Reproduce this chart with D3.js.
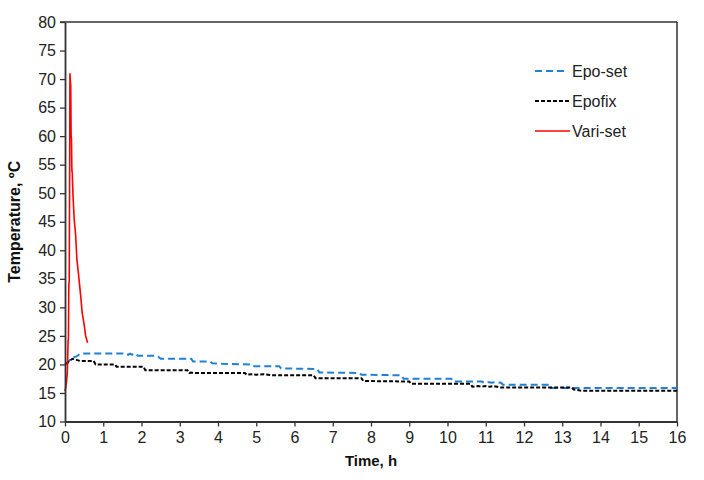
<!DOCTYPE html>
<html>
<head>
<meta charset="utf-8">
<script src="https://cdn.jsdelivr.net/npm/d3@7"></script>
<style>
  html, body { margin: 0; padding: 0; background: #fff; }
  svg { display: block; font-family: "Liberation Sans", Arial, sans-serif; }
</style>
</head>
<body>
<svg id="chart" width="704" height="480"></svg>
<script>
// ---- data (time in hours, temperature in °C) ----
const xTicks = [0,1,2,3,4,5,6,7,8,9,10,11,12,13,14,15,16];
const yTicks = [10,15,20,25,30,35,40,45,50,55,60,65,70,75,80];
const seriesNames = ["Epo-set", "Epofix", "Vari-set"];

const epoSetTime = [0,0.1,0.2,0.3,0.4,1.6,1.65,1.7,1.75,1.85,1.9,2.4,2.45,2.5,3.3,3.35,3.8,3.85,4.1,4.85,4.9,5.6,5.65,6.6,6.65,7.7,7.75,8.8,8.85,10.1,10.15,10.9,10.95,11.05,11.15,11.25,11.4,11.45,12.65,12.7,16];
const epoSetTemp = [20.0,20.6,21.2,21.4,21.9,21.9,21.7,21.9,21.7,21.9,21.5,21.5,21.3,21.0,21.0,20.5,20.5,20.2,20.1,20.0,19.7,19.7,19.3,19.2,18.6,18.5,18.2,18.1,17.5,17.5,17.0,17.0,16.8,16.9,16.8,16.9,16.8,16.45,16.45,15.85,15.85];

const epofixTime = [0.04,0.1,0.2,0.3,0.4,0.75,0.8,1.3,1.35,2.05,2.1,3.2,3.25,3.3,3.35,4.7,4.75,4.9,5.0,5.2,5.4,6.5,6.55,7.75,7.8,9.0,9.05,10.6,10.65,10.8,10.9,11.0,11.1,11.2,11.4,13.25,13.3,13.4,13.5,16];
const epofixTemp = [20.0,20.6,21.0,20.8,20.6,20.6,20.0,20.0,19.6,19.6,19.0,19.0,18.5,18.6,18.5,18.5,18.2,18.3,18.2,18.3,18.1,18.1,17.6,17.6,17.1,17.0,16.6,16.6,16.1,16.2,16.1,16.2,16.1,16.2,15.95,15.95,15.6,15.5,15.4,15.4];

const variSetTime = [0.0,0.02,0.04,0.06,0.07,0.08,0.09,0.1,0.11,0.12,0.13,0.14,0.15,0.16,0.17,0.18,0.19,0.21,0.24,0.28,0.31,0.35,0.41,0.45,0.5,0.54,0.59];
const variSetTemp = [15.3,16.0,17.0,18.5,21.0,24.0,24.8,34.0,34.5,50.0,71.0,69.5,69.0,60.0,59.5,54.0,53.5,49.5,45.5,42.5,38.5,36.0,32.0,29.0,27.0,25.0,23.8];

// ---- layout ----
const svg = d3.select("#chart");
const pLeft = 65, pRight = 677, pTop = 22, pBottom = 421.5;
const x = d3.scaleLinear().domain([0, 16]).range([pLeft, pRight]);
const y = d3.scaleLinear().domain([10, 80]).range([pBottom, pTop]);
const axisColor = "#333";

const zip = (ts, vs) => ts.map((t, i) => [t, vs[i]]);
const series = [
  { name: seriesNames[0], data: zip(epoSetTime, epoSetTemp), color: "#1f80d6", dash: "7,4", width: 2 },
  { name: seriesNames[1], data: zip(epofixTime, epofixTemp), color: "#000000", dash: "4,2", width: 2 },
  { name: seriesNames[2], data: zip(variSetTime, variSetTemp), color: "#ff0000", dash: null, width: 1.6 }
];

const line = d3.line().x(d => x(d[0])).y(d => y(d[1]));

// frame (top & right)
svg.append("line").attr("x1", pLeft - 5).attr("x2", pRight).attr("y1", pTop).attr("y2", pTop)
  .attr("stroke", axisColor).attr("stroke-width", 1.5);
svg.append("line").attr("x1", pRight).attr("x2", pRight).attr("y1", pTop).attr("y2", pBottom)
  .attr("stroke", axisColor).attr("stroke-width", 1.5);

// series
series.forEach(s => {
  svg.append("path").datum(s.data)
    .attr("d", line)
    .attr("fill", "none")
    .attr("stroke", s.color)
    .attr("stroke-width", s.width)
    .attr("stroke-dasharray", s.dash)
    .attr("stroke-linejoin", "miter");
});

// axes
const xAxis = svg.append("g").attr("transform", `translate(0,${pBottom})`)
  .call(d3.axisBottom(x).tickValues(xTicks).tickFormat(d3.format("d")).tickSize(5).tickSizeOuter(0));
const yAxis = svg.append("g").attr("transform", `translate(${pLeft},0)`)
  .call(d3.axisLeft(y).tickValues(yTicks).tickFormat(d3.format("d")).tickSize(5).tickSizeOuter(0));
[xAxis, yAxis].forEach(g => {
  g.select(".domain").attr("stroke", axisColor).attr("stroke-width", 1.8);
  g.selectAll(".tick line").attr("stroke", axisColor).attr("stroke-width", 1.3);
  g.selectAll(".tick text").attr("fill", "#222").style("font-size", "16px")
    .style("font-family", "'Liberation Sans', Arial, sans-serif");
});
xAxis.selectAll(".tick text").attr("dy", "0.95em").attr("y", 6);
yAxis.selectAll(".tick text").attr("x", -9);

// axis titles
svg.append("text").attr("x", (pLeft + pRight) / 2).attr("y", 466)
  .attr("text-anchor", "middle").style("font-size", "15px").style("font-weight", "bold")
  .attr("fill", "#111").text("Time, h");
svg.append("text").attr("transform", `translate(20,${(pTop + pBottom) / 2}) rotate(-90)`)
  .attr("text-anchor", "middle").style("font-size", "16px").style("font-weight", "bold")
  .attr("fill", "#111").text("Temperature, ºC");

// legend
const legendY = [71, 101, 131];
series.forEach((s, i) => {
  const g = svg.append("g").attr("transform", `translate(535,${legendY[i]})`);
  g.append("line").attr("x1", 0).attr("x2", i === 0 ? 30 : 35).attr("y1", 0).attr("y2", 0)
    .attr("stroke", s.color).attr("stroke-width", s.width).attr("stroke-dasharray", s.dash);
  g.append("text").attr("x", 37).attr("y", 5.5).style("font-size", "16px").attr("fill", "#222")
    .text(s.name);
});
</script>
</body>
</html>
